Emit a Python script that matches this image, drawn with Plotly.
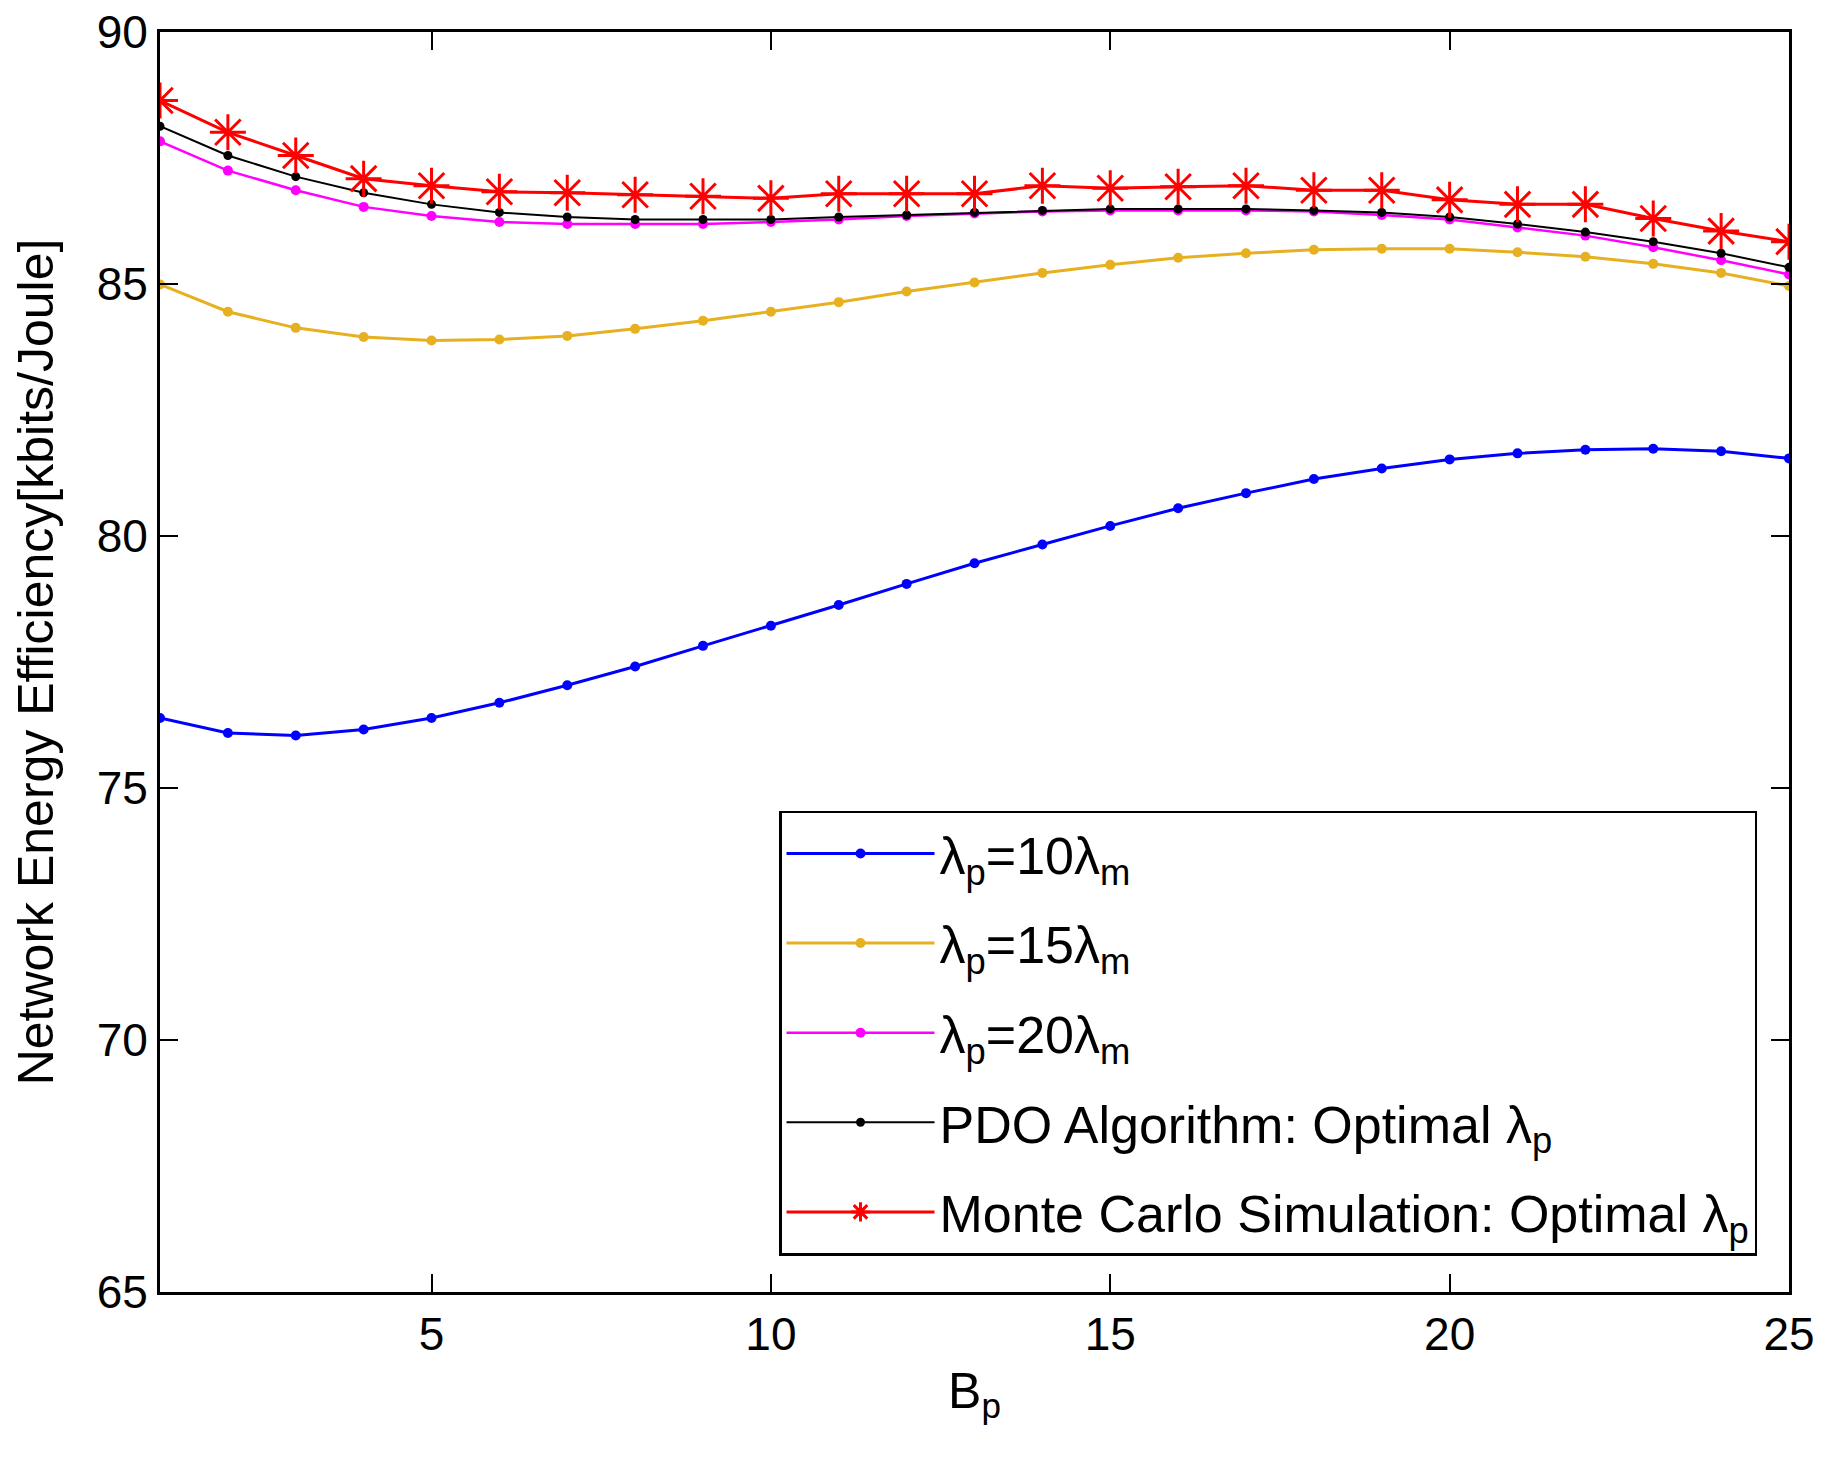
import plotly.graph_objects as go

# Data.
b_p = list(range(1, 26))

ee_10 = [76.39, 76.09, 76.04, 76.16, 76.39, 76.69, 77.04, 77.41, 77.82, 78.22,
         78.63, 79.05, 79.46, 79.83, 80.20, 80.55, 80.85, 81.13, 81.34, 81.52,
         81.64, 81.71, 81.73, 81.68, 81.54]
ee_15 = [84.99, 84.45, 84.13, 83.95, 83.88, 83.90, 83.97, 84.11, 84.27, 84.45,
         84.64, 84.85, 85.03, 85.22, 85.38, 85.52, 85.61, 85.68, 85.70, 85.70,
         85.63, 85.54, 85.40, 85.22, 84.96]
ee_20 = [87.83, 87.25, 86.86, 86.53, 86.35, 86.23, 86.19, 86.19, 86.19, 86.23,
         86.28, 86.35, 86.40, 86.44, 86.46, 86.46, 86.46, 86.44, 86.37, 86.28,
         86.12, 85.96, 85.73, 85.47, 85.19]
ee_pdo = [88.13, 87.55, 87.13, 86.81, 86.58, 86.42, 86.33, 86.28, 86.28, 86.28,
          86.33, 86.37, 86.42, 86.46, 86.49, 86.49, 86.49, 86.46, 86.42, 86.33,
          86.19, 86.03, 85.84, 85.61, 85.33]
ee_mc = [88.64, 88.01, 87.55, 87.09, 86.95, 86.83, 86.81, 86.77, 86.74, 86.70,
         86.79, 86.79, 86.79, 86.95, 86.90, 86.93, 86.95, 86.86, 86.86, 86.67,
         86.58, 86.58, 86.30, 86.05, 85.84]

x_ticks = [5, 10, 15, 20, 25]
y_ticks = [65, 70, 75, 80, 85, 90]

font = "Liberation Sans, Arial, sans-serif"

fig = go.Figure()

# Parameter sweeps (dots). Separate legend groups so tracegroupgap spaces the rows.
fig.add_trace(go.Scatter(x=b_p, y=ee_10, mode="lines+markers", legendgroup="a",
    name="λ<sub>p</sub>=10λ<sub>m</sub>",
    line=dict(color="#0000FF", width=3), marker=dict(size=10, color="#0000FF")))
fig.add_trace(go.Scatter(x=b_p, y=ee_15, mode="lines+markers", legendgroup="b",
    name="λ<sub>p</sub>=15λ<sub>m</sub>",
    line=dict(color="#E6B020", width=3), marker=dict(size=10, color="#E6B020")))
fig.add_trace(go.Scatter(x=b_p, y=ee_20, mode="lines+markers", legendgroup="c",
    name="λ<sub>p</sub>=20λ<sub>m</sub>",
    line=dict(color="#FF00FF", width=2.5), marker=dict(size=10, color="#FF00FF")))
fig.add_trace(go.Scatter(x=b_p, y=ee_pdo, mode="lines+markers", legendgroup="d",
    name="PDO Algorithm: Optimal λ<sub>p</sub>",
    line=dict(color="#000000", width=2), marker=dict(size=9, color="#000000")))

# Monte Carlo (asterisks).
fig.add_trace(go.Scatter(x=b_p, y=ee_mc, mode="lines+markers", legendgroup="e",
    name="Monte Carlo Simulation: Optimal λ<sub>p</sub>",
    line=dict(color="#FF0000", width=3),
    marker=dict(symbol="asterisk-open", size=30,
                line=dict(color="#FF0000", width=3))))

axis_common = dict(showline=True, linecolor="black", linewidth=3,
                   mirror="ticks", ticks="inside", ticklen=18, tickwidth=2,
                   tickcolor="black", showgrid=False, zeroline=False,
                   automargin=False, ticklabeloverflow="allow",
                   tickfont=dict(size=46, color="black", family=font))

# Margins allow for the 8px default page margin around the plot div.
fig.update_layout(
    width=1830, height=1459,
    margin=dict(l=152, r=49, t=24, b=175),
    paper_bgcolor="white", plot_bgcolor="white",
    font=dict(family=font, size=46, color="black"),
    xaxis=dict(range=[1, 25], tickvals=x_ticks,
               title=dict(text="B<sub>p</sub>", font=dict(size=50), standoff=14),
               **axis_common),
    yaxis=dict(range=[65, 90], tickvals=y_ticks,
               title=dict(text="Network Energy Efficiency[kbits/Joule]",
                          font=dict(size=50), standoff=30),
               **axis_common),
    legend=dict(x=0.38, y=0.382, xanchor="left", yanchor="top",
                bgcolor="white", bordercolor="black", borderwidth=2.5,
                font=dict(size=52, family=font), itemwidth=148,
                tracegroupgap=19),
    showlegend=True,
)

fig.write_html("out.html")
